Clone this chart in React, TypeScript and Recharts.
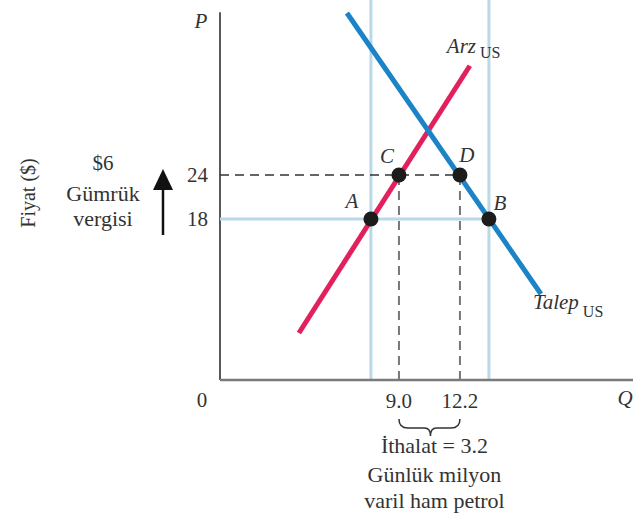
import React from 'react';
import { ComposedChart, Line, Scatter, XAxis, YAxis, ReferenceLine, ReferenceDot } from 'recharts';

// Axis extents (quantity in million barrels/day, price in $)
const Q_MIN = -0.39;
const Q_MAX = 21.28;
const P_MIN = -3.96;
const P_MAX = 47.87;
const P_AXIS_TOP = 46.2;

// Supply (Arz US) and demand (Talep US) end points
const supplyQ = [3.75, 12.72];
const supplyP = [2.45, 38.9];
const demandQ = [6.27, 16.45];
const demandP = [46.1, 7.77];

// Marked points
const pointNames = ['A', 'B', 'C', 'D'];
const pointQ = [7.53, 13.72, 9.0, 12.2];
const pointP = [18, 18, 24, 24];

const worldPrice = 18;
const tariffPrice = 24;
const tariffLabel = '$6';
const freeTradeQ = [7.53, 13.72];
const importQ = [9.0, 12.2];
const importAmount = 3.2;
const xTicks = [9.0, 12.2];
const yTicks = [18, 24];

const supplyData = supplyQ.map((q, i) => ({ q, p: supplyP[i] }));
const demandData = demandQ.map((q, i) => ({ q, p: demandP[i] }));
const pointData = pointNames.map((name, i) => ({ name, q: pointQ[i], p: pointP[i] }));

const FONT = '"Liberation Serif", "DejaVu Serif", serif';
const TEXT = '#333';
const RED = '#e2205c';
const BLUE = '#1b84c6';
const LIGHT = '#b9d8e8';

// label offsets (layout only)
const pointLabelOffset: Record<string, [number, number]> = {
  A: [-19, -11],
  B: [11, -9],
  C: [-12, -12],
  D: [7, -13],
};

type TxtOpts = { size?: number; italic?: boolean; anchor?: string; rotate?: number; fill?: string };

const textShape = (dx: number, dy: number, content: React.ReactNode, o: TxtOpts = {}) => (props: any) => {
  const x = props.cx + dx;
  const y = props.cy + dy;
  return (
    <text
      x={x}
      y={y}
      style={{ fontFamily: FONT }}
      fontSize={o.size ?? 20}
      fontStyle={o.italic ? 'italic' : 'normal'}
      textAnchor={o.anchor ?? 'middle'}
      fill={o.fill ?? TEXT}
      transform={o.rotate ? `rotate(${o.rotate} ${x} ${y})` : undefined}
    >
      {content}
    </text>
  );
};

const dotShape = (props: any) => <circle cx={props.cx} cy={props.cy} r={7.5} fill="#1c1c1c" />;

const arrowShape = (props: any) => {
  const x = props.x1 - 57;
  const yBottom = props.y1 + 16;
  const yTip = props.y2 - 6;
  return (
    <g>
      <line x1={x} y1={yBottom} x2={x} y2={yTip + 18} stroke="#111" strokeWidth={2.5} />
      <path d={`M ${x} ${yTip} L ${x - 10} ${yTip + 21} L ${x + 10} ${yTip + 21} Z`} fill="#111" />
    </g>
  );
};

const braceShape = (props: any) => {
  const x1 = props.x1;
  const x2 = props.x2;
  const t = props.y1 + 39;
  const mid = (x1 + x2) / 2 + 1;
  const d = `M ${x1} ${t} Q ${x1} ${t + 9} ${x1 + 9} ${t + 9} L ${mid - 6} ${t + 9} Q ${mid} ${t + 9} ${mid} ${t + 17} Q ${mid} ${t + 9} ${mid + 6} ${t + 9} L ${x2 - 9} ${t + 9} Q ${x2} ${t + 9} ${x2} ${t}`;
  const cx = mid + 4;
  const st = { fontFamily: FONT };
  return (
    <g>
      <path d={d} fill="none" stroke="#333" strokeWidth={1.5} />
      <text x={cx} y={props.y1 + 73} style={st} fontSize={22} textAnchor="middle" fill={TEXT}>
        {`İthalat = ${importAmount.toFixed(1)}`}
      </text>
      <text x={cx} y={props.y1 + 102} style={st} fontSize={22} textAnchor="middle" fill={TEXT}>
        Günlük milyon
      </text>
      <text x={cx} y={props.y1 + 128} style={st} fontSize={22} textAnchor="middle" fill={TEXT}>
        varil ham petrol
      </text>
    </g>
  );
};

export default function App() {
  return (
    <div style={{ position: 'absolute', left: 0, top: 0 }}>
      <ComposedChart width={640} height={513} margin={{ top: 0, right: 7, bottom: 0, left: 0 }}>
        <XAxis
          type="number"
          dataKey="q"
          domain={[Q_MIN, Q_MAX]}
          allowDataOverflow
          ticks={xTicks}
          tickFormatter={(v: number) => v.toFixed(1)}
          tickLine={false}
          tickSize={0}
          tickMargin={13}
          height={133}
          axisLine={{ stroke: '#7a7a7a', strokeWidth: 2.5 }}
          tick={{ fontFamily: FONT, fontSize: 21, fill: TEXT }}
        />
        <YAxis
          type="number"
          dataKey="p"
          domain={[P_MIN, P_MAX]}
          allowDataOverflow
          ticks={yTicks}
          tickLine={false}
          tickSize={0}
          tickMargin={12}
          width={220}
          axisLine={false}
          tick={{ fontFamily: FONT, fontSize: 21, fill: TEXT }}
        />

        {/* y axis line */}
        <ReferenceLine
          segment={[{ x: Q_MIN, y: P_MIN }, { x: Q_MIN, y: P_AXIS_TOP }]}
          stroke="#222"
          strokeWidth={1.5}
        />

        {/* free-trade light lines */}
        {freeTradeQ.map((q) => (
          <ReferenceLine key={'v' + q} x={q} stroke={LIGHT} strokeWidth={3} />
        ))}
        <ReferenceLine
          segment={[{ x: Q_MIN, y: worldPrice }, { x: freeTradeQ[1], y: worldPrice }]}
          stroke={LIGHT}
          strokeWidth={3}
        />

        {/* tariff dashed lines */}
        <ReferenceLine
          segment={[{ x: Q_MIN, y: tariffPrice }, { x: importQ[1], y: tariffPrice }]}
          stroke="#333"
          strokeWidth={1.5}
          strokeDasharray="9 6"
        />
        {importQ.map((q) => (
          <ReferenceLine
            key={'d' + q}
            segment={[{ x: q, y: P_MIN }, { x: q, y: tariffPrice }]}
            stroke="#777"
            strokeWidth={2}
            strokeDasharray="9 6"
          />
        ))}

        <Line data={supplyData} dataKey="p" type="linear" stroke={RED} strokeWidth={5} dot={false} isAnimationActive={false} />
        <Line data={demandData} dataKey="p" type="linear" stroke={BLUE} strokeWidth={5} dot={false} isAnimationActive={false} />
        <Scatter data={pointData} dataKey="p" shape={dotShape} isAnimationActive={false} />

        {/* point labels */}
        {pointData.map((d) => (
          <ReferenceDot
            key={'l' + d.name}
            x={d.q}
            y={d.p}
            r={0}
            shape={textShape(pointLabelOffset[d.name][0], pointLabelOffset[d.name][1], d.name, { italic: true, size: 21 })}
          />
        ))}

        {/* curve labels */}
        <ReferenceDot
          x={supplyQ[1]}
          y={supplyP[1]}
          r={0}
          shape={textShape(-23, -13, (
            <>
              <tspan fontStyle="italic">Arz</tspan>
              <tspan fontSize={16} dx={4} dy={5}>US</tspan>
            </>
          ), { anchor: 'start', size: 21 })}
        />
        <ReferenceDot
          x={demandQ[1]}
          y={demandP[1]}
          r={0}
          shape={textShape(-8, 15, (
            <>
              <tspan fontStyle="italic">Talep</tspan>
              <tspan fontSize={16} dx={4} dy={8}>US</tspan>
            </>
          ), { anchor: 'start', size: 21 })}
        />

        {/* axis letters */}
        <ReferenceDot x={Q_MIN} y={P_AXIS_TOP} r={0} shape={textShape(-19, 16, 'P', { italic: true, size: 21 })} />
        <ReferenceDot x={Q_MAX} y={P_MIN} r={0} shape={textShape(-8, 25, 'Q', { italic: true, size: 21 })} />
        <ReferenceDot x={Q_MIN} y={P_MIN} r={0} shape={textShape(-18, 27, '0', { size: 21 })} />
        <ReferenceDot x={Q_MIN} y={21} r={0} shape={textShape(-185, -4, 'Fiyat ($)', { size: 20, rotate: -90 })} />

        {/* tariff annotation */}
        <ReferenceDot x={Q_MIN} y={tariffPrice} r={0} shape={textShape(-117, -5, tariffLabel, { size: 21 })} />
        <ReferenceDot x={Q_MIN} y={tariffPrice} r={0} shape={textShape(-117, 26, 'Gümrük', { size: 22 })} />
        <ReferenceDot x={Q_MIN} y={tariffPrice} r={0} shape={textShape(-117, 51, 'vergisi', { size: 22 })} />
        <ReferenceLine
          segment={[{ x: Q_MIN, y: worldPrice }, { x: Q_MIN, y: tariffPrice }]}
          shape={arrowShape}
        />

        {/* imports brace */}
        <ReferenceLine
          segment={[{ x: importQ[0], y: P_MIN }, { x: importQ[1], y: P_MIN }]}
          shape={braceShape}
        />
      </ComposedChart>
    </div>
  );
}
